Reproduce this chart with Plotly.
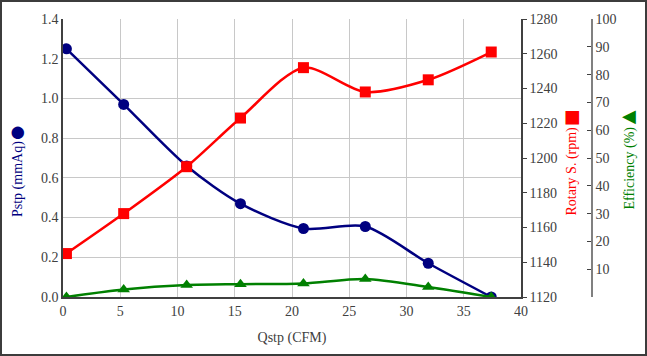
import plotly.graph_objects as go

qstp = [0.3, 5.3, 10.8, 15.5, 21.0, 26.4, 31.9, 37.4]
pstp = [1.25, 0.97, 0.66, 0.47, 0.345, 0.355, 0.17, 0.0]
rpm = [1145, 1168, 1195, 1223, 1252, 1238, 1245, 1261]
eff = [0.0, 2.7, 4.3, 4.6, 4.9, 6.5, 3.6, 0.0]

x_ticks = [0, 5, 10, 15, 20, 25, 30, 35, 40]
eff_ticks = [0, 10, 20, 30, 40, 50, 60, 70, 80, 90, 100]
eff_labels = [""] + [str(v) for v in eff_ticks[1:]]

W, H = 647, 356
L, R, T, B = 63, 20, 19, 59
pw = W - L - R
ph = H - T - B
xdom_end = (521 - L) / pw
y3pos = (592 - L) / pw


def px(x):
    return (x - L) / pw


def py(y):
    return (H - B - y) / ph


FONT = "Liberation Serif"
TXT = "#404040"
NAVY = "#000080"
RED = "#ff0000"
GREEN = "#008000"

fig = go.Figure()
fig.add_trace(go.Scatter(x=qstp, y=pstp, mode="lines+markers", yaxis="y",
                         line=dict(color=NAVY, width=2.5, shape="spline", smoothing=0.8),
                         marker=dict(symbol="circle", size=11, color=NAVY)))
fig.add_trace(go.Scatter(x=qstp, y=rpm, mode="lines+markers", yaxis="y2",
                         line=dict(color=RED, width=2.5, shape="spline", smoothing=0.8),
                         marker=dict(symbol="square", size=11, color=RED)))
fig.add_trace(go.Scatter(x=qstp, y=eff, mode="lines+markers", yaxis="y3",
                         line=dict(color=GREEN, width=2.5, shape="spline", smoothing=0.8),
                         marker=dict(symbol="triangle-up", size=11, color=GREEN)))


def title_ann(text, x, y, color, size=14, angle=-90):
    return dict(text=text, xref="paper", yref="paper", x=px(x), y=py(y),
                xanchor="center", yanchor="middle", showarrow=False, textangle=angle,
                font=dict(family=FONT, size=size, color=color))


annotations = [
    title_ann("Pstp (mmAq)", 17.5, 179.5, NAVY),
    title_ann("●", 17.5, 131, NAVY, size=29, angle=0),
    title_ann("Rotary S. (rpm)", 572, 171.5, RED),
    title_ann("■", 572, 116.5, RED, size=28, angle=0),
    title_ann("Efficiency (%)", 629, 168.5, GREEN),
    title_ann("◀", 629, 116, GREEN, size=18, angle=0),
]

fig.update_layout(
    width=W, height=H,
    margin=dict(l=L, r=R, t=T, b=B, autoexpand=False),
    paper_bgcolor="white", plot_bgcolor="white",
    showlegend=False,
    font=dict(family=FONT, size=14, color=TXT),
    xaxis=dict(domain=[0, xdom_end], range=[0, 40], tickvals=x_ticks,
               showgrid=True, gridcolor="#c8c8c8", gridwidth=1,
               showline=True, linecolor="#404040", linewidth=1.5,
               ticks="", zeroline=False,
               title=dict(text="Qstp (CFM)", font=dict(size=14, color=TXT), standoff=15)),
    yaxis=dict(range=[0, 1.4], dtick=0.2, tickformat=".1f",
               showgrid=True, gridcolor="#c8c8c8", gridwidth=1,
               showline=True, linecolor="#404040", linewidth=1.5,
               ticks="", zeroline=False),
    yaxis2=dict(overlaying="y", side="right", anchor="x", range=[1120, 1280], dtick=20,
                showgrid=False, showline=True, linecolor="#404040", linewidth=1.5,
                ticks="outside", ticklen=4, tickcolor="#404040", zeroline=False),
    yaxis3=dict(overlaying="y", side="right", anchor="free", position=y3pos,
                range=[0, 100], tickvals=eff_ticks, ticktext=eff_labels,
                showgrid=False, showline=True, linecolor="#808080", linewidth=1.5,
                ticks="inside", ticklen=4, tickcolor="#404040", zeroline=False),
    annotations=annotations,
    shapes=[dict(type="rect", xref="paper", yref="paper",
                 x0=(-L + 1) / pw, x1=(W - L - 1) / pw,
                 y0=(-B + 1) / ph, y1=1 + (T - 1) / ph,
                 line=dict(color="#3c3c3c", width=2), fillcolor="rgba(0,0,0,0)", layer="above")],
)

fig.write_html("out.html", config={"displayModeBar": False},
               post_script="document.body.style.margin='0';document.body.style.overflow='hidden';")
